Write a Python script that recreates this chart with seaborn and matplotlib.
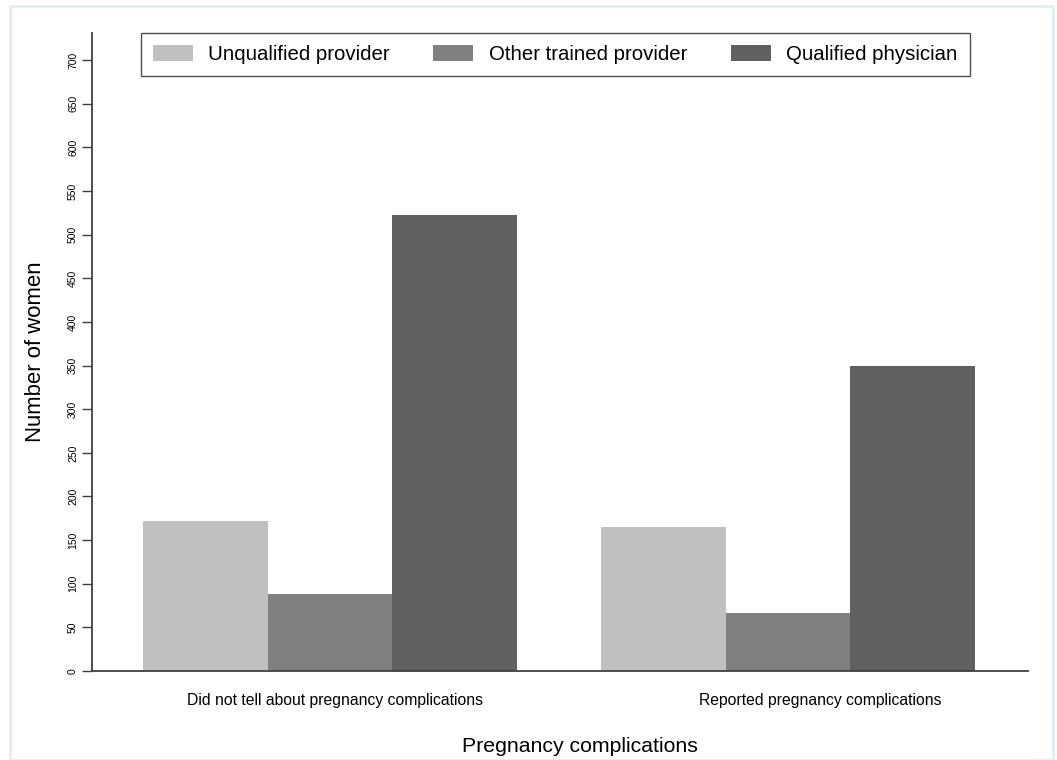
import pandas as pd
import numpy as np
import matplotlib.pyplot as plt
import seaborn as sns
from matplotlib.patches import Rectangle

sns.set_theme(style='white')
plt.rcParams['font.family'] = ['Liberation Sans', 'DejaVu Sans']
plt.rcParams['text.color'] = 'black'
plt.rcParams['axes.labelcolor'] = 'black'
plt.rcParams['xtick.color'] = 'black'
plt.rcParams['ytick.color'] = 'black'

# data
groups = ['Did not tell about pregnancy complications', 'Reported pregnancy complications']
providers = ['Unqualified provider', 'Other trained provider', 'Qualified physician']
unqualified = [172, 165]
other_trained = [88, 67]
physician = [523, 349]
y_ticks = list(range(0, 701, 50))

df = pd.DataFrame({
    'group': groups * 3,
    'provider': np.repeat(providers, 2),
    'count': unqualified + other_trained + physician,
})

colors = ['#c0c0c0', '#808080', '#606060']

fig = plt.figure(figsize=(10.57, 7.60), dpi=100)
ax = fig.add_axes([0.087, 0.117, 0.8856, 0.8396])

sns.barplot(data=df, x='group', y='count', hue='provider', hue_order=providers,
            order=groups, palette=colors, width=0.817, gap=0, saturation=1,
            edgecolor='none', linewidth=0, ax=ax)

ax.set_xlim(-0.52, 1.524)
ax.set_ylim(0, 731)
ax.set_yticks(y_ticks)
ax.set_yticklabels([str(t) for t in y_ticks], rotation=90, va='center', fontsize=7.5)
ax.tick_params(axis='y', direction='out', length=7, width=1, color='#404040', pad=3, left=True)
ax.tick_params(axis='x', length=0, pad=16, labelsize=11.3)
ax.set_xticks([0.01, 1.07])
ax.set_xticklabels(groups)

sns.despine(ax=ax)
ax.spines['left'].set_color('#404040')
ax.spines['bottom'].set_color('#404040')
ax.spines['left'].set_linewidth(1.3)
ax.spines['bottom'].set_linewidth(1.3)

ax.set_ylabel('Number of women', fontsize=15.9)
ax.yaxis.set_label_coords(-0.049, 0.5)
ax.set_xlabel('Pregnancy complications', fontsize=15.3)
ax.xaxis.set_label_coords(0.521, -0.103)

leg = ax.legend(loc='upper center', bbox_to_anchor=(0.4947, 1.0), ncol=3,
                frameon=True, fancybox=False, fontsize=14.7,
                handlelength=1.95, handleheight=0.8, columnspacing=2.15,
                borderpad=0.6, handletextpad=0.75, borderaxespad=0)
leg.get_frame().set_edgecolor('#202020')
leg.get_frame().set_linewidth(1)

fig.patches.append(Rectangle((10 / 1057, 0), 1043 / 1057, 754 / 760, transform=fig.transFigure,
                             fill=False, edgecolor='#e3eef0', linewidth=2))

fig.savefig('out.png', dpi=100)
